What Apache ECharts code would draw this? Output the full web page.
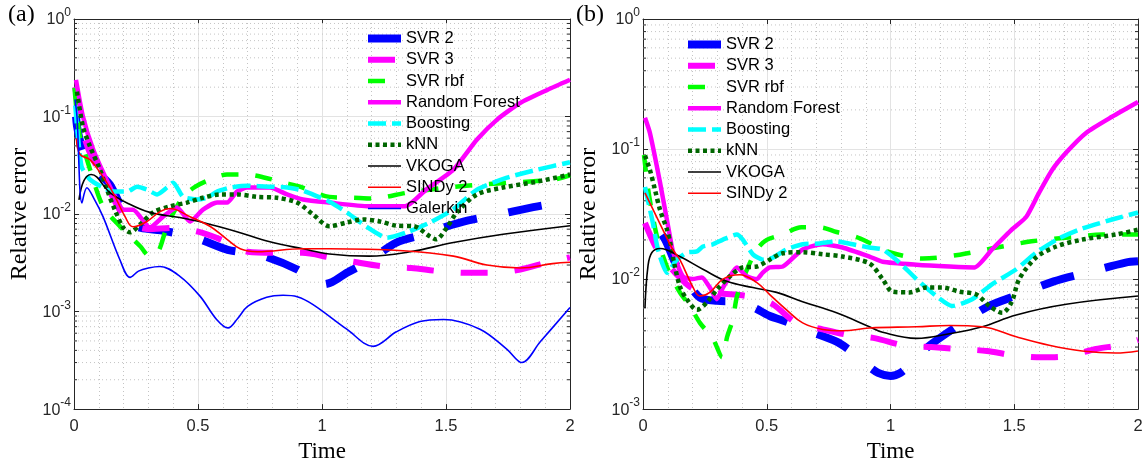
<!DOCTYPE html>
<html><head><meta charset="utf-8">
<script src="https://cdn.jsdelivr.net/npm/echarts@6/dist/echarts.min.js"></script>
<style>html,body{margin:0;padding:0;background:#fff}#c{width:1146px;height:468px}</style>
</head><body><div id="c"></div>
<script>
// ---------- axis ticks ----------
const xTicks = [0, 0.5, 1, 1.5, 2];
const yRangeA = [1e-4, 1];
const yRangeB = [1e-3, 1];
const minorMantissas = [2, 3, 4, 5, 6, 7, 8, 9];
const decadesA = [1e-4, 1e-3, 1e-2, 1e-1];
const decadesB = [1e-3, 1e-2, 1e-1];
const namesA = ['SVR 2','SVR 3','SVR rbf','Random Forest','Boosting','kNN','VKOGA','SINDy 2','Galerkin'];
const namesB = ['SVR 2','SVR 3','SVR rbf','Random Forest','Boosting','kNN','VKOGA','SINDy 2'];

// ---------- panel (a) data: [time, relative error] ----------
const svr2A = [[0.003,0.16],[0.012,0.08],[0.03,0.05],[0.056,0.034],[0.1,0.026],[0.145,0.02],[0.2,0.0105],[0.23,0.008],[0.27,0.0072],[0.35,0.0068],[0.42,0.0063],[0.5,0.0056],[0.62,0.0043],[0.7,0.0040],[0.78,0.0036],[0.9,0.0027],[0.95,0.0022],[1.0,0.0019],[1.04,0.002],[1.1,0.0025],[1.18,0.0032],[1.3,0.0051],[1.415,0.0062],[1.5,0.0074],[1.59,0.0086],[1.71,0.0099],[1.87,0.012],[2.0,0.0136]];
const svr3A = [[0.005,0.2],[0.03,0.08],[0.06,0.045],[0.1,0.028],[0.15,0.016],[0.2,0.0095],[0.25,0.0075],[0.3,0.007],[0.4,0.0072],[0.5,0.0066],[0.59,0.0055],[0.66,0.0045],[0.7,0.0041],[0.81,0.0040],[0.92,0.0040],[1.03,0.0036],[1.14,0.0032],[1.25,0.0029],[1.36,0.0028],[1.47,0.0026],[1.585,0.0025],[1.69,0.0025],[1.8,0.0027],[1.91,0.0032],[2.0,0.0036]];
const rbfA = [[0.002,0.197],[0.02,0.07],[0.04,0.046],[0.065,0.0285],[0.117,0.012],[0.185,0.0075],[0.226,0.0059],[0.266,0.0047],[0.306,0.0037],[0.339,0.0041],[0.367,0.0065],[0.387,0.0088],[0.44,0.015],[0.488,0.019],[0.548,0.0225],[0.617,0.0254],[0.698,0.0254],[0.77,0.0236],[0.843,0.021],[0.911,0.0191],[1.03,0.015],[1.125,0.0147],[1.2,0.0144],[1.347,0.0166],[1.504,0.0187],[1.637,0.02],[1.93,0.0225],[2.0,0.025]];
const rfA = [[0.008,0.238],[0.036,0.1],[0.077,0.046],[0.133,0.022],[0.173,0.014],[0.198,0.0111],[0.238,0.0111],[0.306,0.0073],[0.359,0.0094],[0.415,0.0117],[0.468,0.0084],[0.52,0.0111],[0.577,0.0131],[0.617,0.0131],[0.657,0.017],[0.698,0.0187],[0.79,0.0187],[0.859,0.0159],[0.923,0.0141],[1.03,0.0131],[1.19,0.012],[1.335,0.012],[1.42,0.0178],[1.53,0.0285],[1.625,0.058],[1.706,0.093],[1.8,0.138],[1.91,0.188],[2.0,0.238]];
const boostA = [[0.005,0.13],[0.03,0.031],[0.065,0.0225],[0.117,0.0187],[0.157,0.017],[0.214,0.017],[0.254,0.019],[0.294,0.0178],[0.335,0.0159],[0.375,0.0187],[0.40,0.021],[0.44,0.015],[0.496,0.0141],[0.536,0.0147],[0.577,0.017],[0.63,0.0187],[0.70,0.0195],[0.79,0.0191],[0.86,0.0187],[0.923,0.0174],[1.03,0.0134],[1.1,0.0104],[1.18,0.0074],[1.262,0.0057],[1.343,0.0065],[1.435,0.0082],[1.528,0.0111],[1.625,0.0178],[1.746,0.0236],[1.867,0.0285],[2.0,0.034]];
const knnA = [[0.012,0.18],[0.036,0.079],[0.065,0.049],[0.105,0.0285],[0.133,0.0178],[0.165,0.011],[0.198,0.0073],[0.226,0.0065],[0.266,0.0078],[0.319,0.0104],[0.387,0.012],[0.456,0.0131],[0.52,0.0147],[0.59,0.0159],[0.657,0.0159],[0.738,0.015],[0.819,0.0147],[0.9,0.0131],[0.964,0.0099],[1.03,0.0075],[1.1,0.0082],[1.165,0.0088],[1.234,0.0084],[1.3,0.0076],[1.37,0.0075],[1.435,0.0059],[1.46,0.0055],[1.504,0.0073],[1.544,0.0104],[1.625,0.0159],[1.73,0.0187],[1.867,0.0215],[2.0,0.0254]];
const vkogaA = [[0.02,0.014],[0.04,0.022],[0.069,0.0254],[0.145,0.0166],[0.214,0.013],[0.306,0.0104],[0.427,0.0092],[0.52,0.0082],[0.657,0.0066],[0.79,0.0052],[0.923,0.0044],[1.03,0.0039],[1.19,0.0037],[1.355,0.0041],[1.53,0.0051],[1.73,0.0062],[2.0,0.0076]];
const sindyA = [[0.01,0.06],[0.024,0.041],[0.065,0.036],[0.105,0.0266],[0.157,0.0166],[0.206,0.0094],[0.238,0.0074],[0.294,0.0084],[0.347,0.0106],[0.387,0.0114],[0.468,0.0094],[0.548,0.0075],[0.617,0.0055],[0.67,0.0044],[0.738,0.0041],[0.923,0.0044],[1.03,0.0044],[1.327,0.0042],[1.53,0.0037],[1.665,0.003],[1.8,0.0028],[1.93,0.0031],[2.0,0.0032]];
const galerkinA = [[0.004,0.15],[0.012,0.1],[0.032,0.013],[0.052,0.0186],[0.08,0.0145],[0.117,0.0094],[0.185,0.0034],[0.226,0.00224],[0.26,0.0026],[0.3,0.0028],[0.347,0.0029],[0.427,0.0023],[0.508,0.00144],[0.575,0.00083],[0.621,0.00068],[0.66,0.00085],[0.70,0.00113],[0.777,0.0014],[0.843,0.00147],[0.9,0.00142],[0.964,0.00118],[1.1,0.00066],[1.206,0.00044],[1.3,0.00062],[1.395,0.00079],[1.49,0.00083],[1.637,0.00066],[1.746,0.00041],[1.806,0.0003],[1.88,0.00049],[2.0,0.0011]];

// ---------- panel (b) data ----------
const svr2B = [[0.008,0.034],[0.05,0.026],[0.09,0.02],[0.137,0.0125],[0.18,0.0095],[0.23,0.0072],[0.3,0.0068],[0.38,0.0067],[0.45,0.006],[0.512,0.0052],[0.58,0.0047],[0.653,0.0041],[0.782,0.0033],[0.85,0.0027],[0.903,0.0022],[0.95,0.0019],[1.0,0.0018],[1.04,0.0019],[1.1,0.0024],[1.15,0.003],[1.258,0.0042],[1.39,0.0061],[1.52,0.0076],[1.66,0.0096],[1.8,0.0113],[1.95,0.0134],[2.0,0.0137]];
const svr3B = [[0.008,0.027],[0.056,0.017],[0.1,0.013],[0.15,0.0102],[0.2,0.0085],[0.3,0.0078],[0.4,0.0075],[0.45,0.0072],[0.524,0.0064],[0.62,0.0046],[0.726,0.0041],[0.835,0.0037],[0.94,0.0035],[1.05,0.0031],[1.165,0.003],[1.27,0.0029],[1.39,0.0028],[1.49,0.0026],[1.61,0.0025],[1.71,0.00255],[1.83,0.0029],[1.925,0.0031],[2.0,0.0034]];
const rbfB = [[0.004,0.09],[0.02,0.05],[0.04,0.03],[0.06,0.02],[0.1,0.012],[0.149,0.0079],[0.19,0.0062],[0.23,0.0046],[0.282,0.0035],[0.32,0.0025],[0.34,0.0036],[0.363,0.0049],[0.38,0.0074],[0.42,0.0118],[0.46,0.0169],[0.5,0.02],[0.565,0.022],[0.64,0.025],[0.714,0.025],[0.782,0.023],[0.863,0.021],[0.915,0.019],[1.0,0.016],[1.13,0.0144],[1.28,0.0154],[1.43,0.0175],[1.57,0.0195],[1.73,0.021],[1.855,0.022],[2.0,0.022]];
const rfB = [[0.008,0.174],[0.028,0.133],[0.069,0.055],[0.109,0.0212],[0.121,0.0163],[0.161,0.0105],[0.2,0.01],[0.238,0.0103],[0.27,0.0086],[0.298,0.007],[0.323,0.0086],[0.351,0.0105],[0.379,0.0123],[0.419,0.0105],[0.46,0.01],[0.484,0.0112],[0.512,0.0123],[0.565,0.0125],[0.645,0.0169],[0.726,0.0185],[0.806,0.0175],[0.915,0.0149],[0.968,0.0136],[1.105,0.0129],[1.238,0.0125],[1.339,0.0123],[1.41,0.0169],[1.49,0.024],[1.548,0.03],[1.6,0.046],[1.653,0.069],[1.71,0.094],[1.79,0.133],[1.895,0.177],[2.0,0.23]];
const boostB = [[0.008,0.051],[0.04,0.027],[0.06,0.017],[0.097,0.0112],[0.137,0.0141],[0.177,0.016],[0.218,0.0163],[0.242,0.0178],[0.282,0.0185],[0.323,0.0201],[0.379,0.022],[0.403,0.0201],[0.444,0.0155],[0.484,0.0141],[0.524,0.0146],[0.58,0.0169],[0.645,0.0185],[0.714,0.0188],[0.782,0.0195],[0.847,0.0185],[0.915,0.0175],[0.968,0.0169],[1.036,0.0134],[1.105,0.01],[1.185,0.0074],[1.25,0.0062],[1.33,0.007],[1.41,0.0091],[1.508,0.0119],[1.589,0.016],[1.68,0.0205],[1.762,0.024],[1.895,0.0287],[2.0,0.0325]];
const knnB = [[0.008,0.089],[0.028,0.069],[0.048,0.049],[0.069,0.034],[0.097,0.024],[0.11,0.019],[0.125,0.0135],[0.149,0.0088],[0.177,0.007],[0.218,0.0058],[0.258,0.0066],[0.298,0.0083],[0.351,0.0105],[0.403,0.0123],[0.46,0.0125],[0.512,0.0141],[0.565,0.0158],[0.645,0.0161],[0.726,0.0155],[0.806,0.0149],[0.915,0.0132],[0.968,0.01],[1.008,0.008],[1.077,0.0079],[1.145,0.0086],[1.21,0.0086],[1.278,0.008],[1.347,0.0076],[1.40,0.0062],[1.452,0.0055],[1.49,0.0067],[1.52,0.01],[1.589,0.0147],[1.67,0.0178],[1.774,0.0201],[1.91,0.022],[2.0,0.024]];
const vkogaB = [[0.008,0.006],[0.02,0.0125],[0.036,0.016],[0.069,0.0172],[0.149,0.0149],[0.242,0.0119],[0.339,0.0096],[0.444,0.0086],[0.54,0.0079],[0.645,0.0067],[0.782,0.0055],[0.915,0.0043],[0.968,0.0039],[1.105,0.0035],[1.238,0.0038],[1.371,0.0043],[1.508,0.0053],[1.71,0.0064],[2.0,0.0074]];
const sindyB = [[0.008,0.046],[0.08,0.024],[0.12,0.0169],[0.149,0.0141],[0.2,0.0088],[0.23,0.0074],[0.27,0.0079],[0.323,0.01],[0.39,0.0108],[0.46,0.0094],[0.512,0.0076],[0.58,0.0058],[0.645,0.0046],[0.726,0.0041],[0.806,0.004],[0.915,0.0042],[1.105,0.0043],[1.238,0.0044],[1.371,0.0043],[1.508,0.0036],[1.641,0.0031],[1.774,0.0028],[1.91,0.0027],[2.0,0.0028]];

// ---------- styles ----------
const styles = {
  'SVR 2':        {color:'#0000ff', width:8,   type:[34,32], smooth:0.3, offA:46, offB:36},
  'SVR 3':        {color:'#ff00ff', width:6,   type:[27,27], smooth:0.3, offA:0, offB:0},
  'SVR rbf':      {color:'#00ff00', width:4.5, type:[17,17], smooth:0.3, offA:0, offB:0},
  'Random Forest':{color:'#ff00ff', width:4.5, type:'solid', smooth:0.2, offA:0, offB:0},
  'Boosting':     {color:'#00ffff', width:4.5, type:[18,6],  smooth:0.2, offA:0, offB:0},
  'kNN':          {color:'#006600', width:4.5, type:[4,3.5], smooth:0.3, offA:0, offB:0},
  'VKOGA':        {color:'#000000', width:1.6, type:'solid', smooth:0.4, offA:0, offB:0},
  'SINDy 2':      {color:'#ff0000', width:1.6, type:'solid', smooth:0.4, offA:0, offB:0},
  'Galerkin':     {color:'#0000ff', width:1.6, type:'solid', smooth:0.35, offA:0, offB:0}
};
const dataA = {'SVR 2':svr2A,'SVR 3':svr3A,'SVR rbf':rbfA,'Random Forest':rfA,'Boosting':boostA,'kNN':knnA,'VKOGA':vkogaA,'SINDy 2':sindyA,'Galerkin':galerkinA};
const dataB = {'SVR 2':svr2B,'SVR 3':svr3B,'SVR rbf':rbfB,'Random Forest':rfB,'Boosting':boostB,'kNN':knnB,'VKOGA':vkogaB,'SINDy 2':sindyB};

const AX = '#262626';
const SANS = 'Liberation Sans';
const SERIF = 'Liberation Serif';

function mkSeries(name, data, idx){
  const s = styles[name];
  return {
    type:'line', name, data, xAxisIndex: idx*2, yAxisIndex: idx*2, z: 3,
    symbol:'none', smooth: s.smooth, animation:false, silent:true,
    lineStyle:{color:s.color, width:s.width, type:s.type, dashOffset: idx ? s.offB : s.offA, cap:'butt', join:'round'},
    itemStyle:{color:s.color}, emphasis:{disabled:true}
  };
}
// minor log ticks + dotted minor grid lines, placed through the axes' own scales
function minorSeries(idx, decades){
  const vals = [];
  decades.forEach(d => minorMantissas.forEach(m => vals.push([xTicks[0], +(m*d).toPrecision(3)])));
  return {
    type:'custom', xAxisIndex: idx*2, yAxisIndex: idx*2, z: 1, silent:true, animation:false,
    data: vals, encode:{x:0, y:1},
    renderItem:(params, api)=>{
      const v = api.value(1);
      const pL = api.coord([xTicks[0], v]);
      const pR = api.coord([xTicks[xTicks.length-1], v]);
      return {type:'group', children:[
        {type:'line', shape:{x1:pL[0], y1:pL[1], x2:pR[0], y2:pR[1]}, style:{stroke:'#c4c4c4', lineWidth:1, lineDash:[1,3]}},
        {type:'line', shape:{x1:pL[0], y1:pL[1], x2:pL[0]+3, y2:pL[1]}, style:{stroke:AX, lineWidth:1}},
        {type:'line', shape:{x1:pR[0]-3, y1:pR[1], x2:pR[0], y2:pR[1]}, style:{stroke:AX, lineWidth:1}}
      ]};
    }
  };
}
function xAx(gi, pos, main){
  return {
    type:'value', gridIndex:gi, position:pos, min:xTicks[0], max:xTicks[xTicks.length-1], interval:0.5,
    name: main ? 'Time' : '', nameLocation:'middle', nameGap:27,
    nameTextStyle:{fontFamily:SERIF, fontSize:23, color:'#000'},
    axisLine:{show:true, onZero:false, lineStyle:{color:AX, width:1}},
    axisTick:{show:true, inside:true, length:5, lineStyle:{color:AX}},
    axisLabel:{show:main, margin:9, fontFamily:SANS, fontSize:16.5, color:AX},
    splitLine:{show:main, lineStyle:{color:'#e3e3e3', width:1}},
    minorTick:{show:false, splitNumber:5},
    minorSplitLine:{show:main, lineStyle:{color:'#c4c4c4', width:1, type:[1,3]}}
  };
}
function yAx(gi, pos, main, range){
  return {
    type:'log', logBase:10, gridIndex:gi, position:pos, min:range[0], max:range[1],
    name: main ? 'Relative error' : '', nameLocation:'middle', nameGap:42,
    nameTextStyle:{fontFamily:SERIF, fontSize:24, color:'#000'},
    axisLine:{show:true, onZero:false, lineStyle:{color:AX, width:1}},
    axisTick:{show:true, inside:true, length:5, lineStyle:{color:AX}},
    minorTick:{show:false},
    axisLabel:{show:main, margin:3, color:AX,
      formatter:(v)=>{ const e = Math.round(Math.log10(v)); return '{b|10}{s|' + e + '}'; },
      rich:{
        b:{fontFamily:SANS, fontSize:16, color:AX, verticalAlign:'bottom', lineHeight:18},
        s:{fontFamily:SANS, fontSize:12, color:AX, verticalAlign:'bottom', lineHeight:12, padding:[0,0,9,0]}
      }},
    splitLine:{show:main, lineStyle:{color:'#e3e3e3', width:1}},
    minorSplitLine:{show:false}
  };
}

const series = [minorSeries(0, decadesA), minorSeries(1, decadesB)];
namesA.forEach(n => series.push(mkSeries(n, dataA[n], 0)));
namesB.forEach(n => series.push(mkSeries(n, dataB[n], 1)));

function legendData(names){
  return names.map(n => ({name:n, lineStyle:{width:styles[n].width, type:styles[n].type, color:styles[n].color, cap:'butt', dashOffset:0}, itemStyle:{opacity:0}}));
}
const legendBase = {orient:'vertical', itemWidth:33, itemHeight:14, itemGap:4.25, selectedMode:false,
  padding:0, itemStyle:{opacity:0, borderWidth:0}, lineStyle:{width:'inherit'},
  textStyle:{fontFamily:SANS, fontSize:16.5, color:'#000'}};

const option = {
  backgroundColor:'#fff',
  animation:false,
  title:[
    {text:'(a)', left:8, top:3, padding:0, textStyle:{fontFamily:SERIF, fontSize:24, fontWeight:'normal', color:'#000'}},
    {text:'(b)', left:576, top:3, padding:0, textStyle:{fontFamily:SERIF, fontSize:24, fontWeight:'normal', color:'#000'}}
  ],
  grid:[
    {left:74, top:19, width:496, height:391},
    {left:643, top:19, width:495, height:391}
  ],
  xAxis:[xAx(0,'bottom',true), xAx(0,'top',false), xAx(1,'bottom',true), xAx(1,'top',false)],
  yAxis:[yAx(0,'left',true,yRangeA), yAx(0,'right',false,yRangeA), yAx(1,'left',true,yRangeB), yAx(1,'right',false,yRangeB)],
  legend:[
    Object.assign({}, legendBase, {data:legendData(namesA), left:364, top:30}),
    Object.assign({}, legendBase, {data:legendData(namesB), left:684, top:36})
  ],
  series
};
const chart = echarts.init(document.getElementById('c'), null, {renderer:'canvas'});
chart.setOption(option);
</script>
</body></html>
